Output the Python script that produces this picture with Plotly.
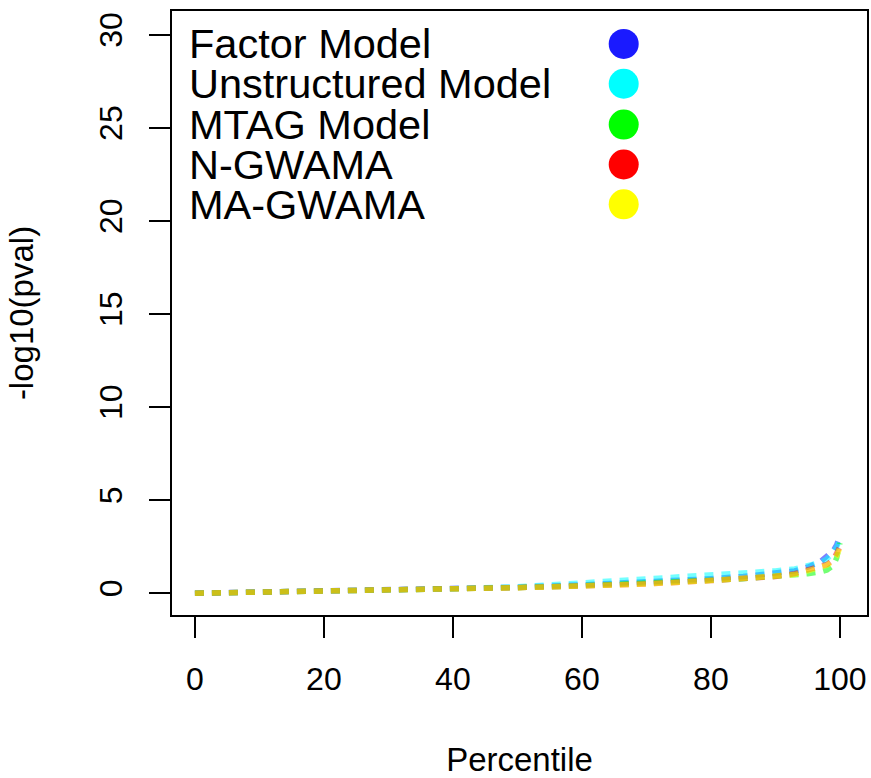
import plotly.graph_objects as go

# Percentile positions and -log10(p) values for each method
percentile = [0, 10, 20, 30, 40, 50, 60, 70, 80, 85, 90, 93, 95, 97, 98, 99, 99.5, 100]

factor_model = [0, 0.05, 0.10, 0.16, 0.23, 0.32, 0.45, 0.58, 0.78, 0.90, 1.05, 1.20, 1.40, 1.70, 2.00, 2.30, 2.60, 3.10]
unstructured_model = [0, 0.05, 0.10, 0.16, 0.24, 0.34, 0.55, 0.72, 0.95, 1.05, 1.20, 1.30, 1.50, 1.65, 1.85, 2.20, 2.50, 2.90]
mtag_model = [0, 0.05, 0.10, 0.15, 0.22, 0.30, 0.40, 0.52, 0.70, 0.78, 0.88, 0.97, 1.05, 1.15, 1.25, 1.50, 1.90, 2.70]
n_gwama = [0, 0.05, 0.10, 0.15, 0.22, 0.30, 0.40, 0.50, 0.68, 0.78, 0.90, 1.05, 1.25, 1.40, 1.55, 1.80, 2.10, 2.50]
ma_gwama = [0, 0.05, 0.10, 0.15, 0.22, 0.30, 0.40, 0.50, 0.68, 0.78, 0.88, 1.00, 1.20, 1.35, 1.50, 1.75, 2.00, 2.45]

series_names = ["Factor Model", "Unstructured Model", "MTAG Model", "N-GWAMA", "MA-GWAMA"]
series_values = [factor_model, unstructured_model, mtag_model, n_gwama, ma_gwama]
line_colors = ["rgba(0,0,255,0.5)", "rgba(0,255,255,0.55)", "rgba(0,255,0,0.55)",
               "rgba(255,0,0,0.5)", "rgba(255,255,0,0.55)"]
legend_colors = ["#1a1aff", "#00ffff", "#00ff00", "#ff0000", "#ffff00"]

x_ticks = [0, 20, 40, 60, 80, 100]
y_ticks = [0, 5, 10, 15, 20, 25, 30]

FONT = "Liberation Sans, Arial, Helvetica, sans-serif"
W, H = 871, 778
ML, MR, MT, MB = 172, 2, 11, 161

fig = go.Figure()
for name, vals, col in zip(series_names, series_values, line_colors):
    fig.add_trace(go.Scatter(
        x=percentile, y=vals, mode="lines", name=name,
        line=dict(color=col, width=5.5, dash="9px,8px"),
        showlegend=False, hoverinfo="skip",
    ))

# Custom key: text on the left, filled dots on the right
plot_h = H - MT - MB
key_y_px = [44, 84, 125, 165, 205]
for name, col, ypx in zip(series_names, legend_colors, key_y_px):
    yp = (H - MB - ypx) / plot_h
    fig.add_annotation(
        x=(187 - ML) / (W - ML - MR), y=yp, xref="paper", yref="paper",
        text=name, showarrow=False, xanchor="left", yanchor="middle",
        font=dict(family=FONT, size=41.5, color="black"),
    )
    fig.add_shape(
        type="circle", xref="paper", yref="paper",
        xsizemode="pixel", ysizemode="pixel",
        xanchor=(625 - ML) / (W - ML - MR), yanchor=yp,
        x0=-15, x1=15, y0=-15, y1=15,
        fillcolor=col, line=dict(width=0),
    )

axis_common = dict(
    showgrid=False, zeroline=False,
    showline=True, linecolor="black", linewidth=1.5, mirror=True,
    ticks="outside", ticklen=21, tickwidth=1.5, tickcolor="black",
    tickfont=dict(family=FONT, size=32, color="black"),
    title_font=dict(family=FONT, size=33, color="black"),
)

fig.update_xaxes(
    range=[-3.55, 104.2], tickvals=x_ticks, ticktext=[str(v) for v in x_ticks],
    title_text="Percentile", title_standoff=56, ticklabelstandoff=14,
    **axis_common,
)
fig.update_yaxes(
    range=[-1.17, 31.28], tickvals=y_ticks, ticktext=[str(v) for v in y_ticks],
    tickangle=-90, title_text="-log10(pval)", title_standoff=50, ticklabelstandoff=14,
    **axis_common,
)

fig.update_layout(
    width=W, height=H,
    margin=dict(l=ML, r=MR, t=MT, b=MB),
    paper_bgcolor="white", plot_bgcolor="white",
    showlegend=False,
)

fig.write_html("out.html")
